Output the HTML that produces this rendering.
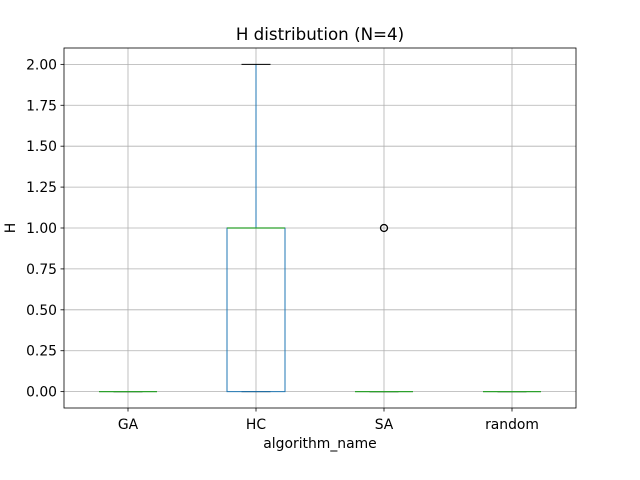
<!DOCTYPE html>
<html><head><meta charset="utf-8"><style>
body{margin:0;background:#fff;}
svg{display:block;font-family:"DejaVu Sans","Liberation Sans",sans-serif;}
</style></head><body>
<svg id="chart" width="640" height="480"></svg>
<script>
const categories=["GA","HC","SA","random"];
const q1=[0,0,0,0];
const medians=[0,1,0,0];
const q3=[0,1,0,0];
const whiskerLow=[0,0,0,0];
const whiskerHigh=[0,2,0,0];
const outliers=[[],[],[1],[]];
const yTicks=[0,0.25,0.5,0.75,1,1.25,1.5,1.75,2];
const yTickLabels=["0.00","0.25","0.50","0.75","1.00","1.25","1.50","1.75","2.00"];

const L=64,R=576,T=48,B=408,ymin=-0.1,ymax=2.1;
const NS="http://www.w3.org/2000/svg";
const svg=document.getElementById('chart');
const y=v=>B-(v-ymin)/(ymax-ymin)*(B-T);
const x=i=>L+(i+0.5)*(R-L)/categories.length;
const bw=58;
function mk(tag,attrs,parent){const e=document.createElementNS(NS,tag);for(const k in attrs)e.setAttribute(k,attrs[k]);(parent||svg).appendChild(e);return e;}

const grid=mk('g',{});


yTicks.forEach((v,i)=>{
  mk('line',{x1:L,x2:R,y1:y(v),y2:y(v),stroke:'#b0b0b0','stroke-width':0.8},grid);
  mk('line',{x1:L-3.5,x2:L,y1:y(v),y2:y(v),stroke:'#000','stroke-width':0.8});
  const t=mk('text',{x:L-7,y:y(v)+5,'text-anchor':'end','font-size':13.9});
  t.textContent=yTickLabels[i];
  
  
});
categories.forEach((c,i)=>{
  mk('line',{x1:x(i),x2:x(i),y1:T,y2:B,stroke:'#b0b0b0','stroke-width':0.8},grid);
  mk('line',{x1:x(i),x2:x(i),y1:B,y2:B+3.5,stroke:'#000','stroke-width':0.8});
  const t=mk('text',{x:x(i),y:B+21,'text-anchor':'middle','font-size':13.9});
  t.textContent=c;
  
  
});
categories.forEach((c,i)=>{
  const g=mk('g',{});
  
  
  const cx=x(i),col='#1f77b4';
  mk('line',{x1:cx,x2:cx,y1:y(q3[i]),y2:y(whiskerHigh[i]),stroke:col},g);
  mk('line',{x1:cx,x2:cx,y1:y(q1[i]),y2:y(whiskerLow[i]),stroke:col},g);
  mk('line',{x1:cx-bw/4,x2:cx+bw/4,y1:y(whiskerHigh[i]),y2:y(whiskerHigh[i]),stroke:'#000'},g);
  mk('line',{x1:cx-bw/4,x2:cx+bw/4,y1:y(whiskerLow[i]),y2:y(whiskerLow[i]),stroke:'#000'},g);
  mk('rect',{x:cx-bw/2,y:y(q3[i]),width:bw,height:Math.max(0,y(q1[i])-y(q3[i])),fill:'none',stroke:col},g);
  mk('line',{x1:cx-bw/2,x2:cx+bw/2,y1:y(medians[i]),y2:y(medians[i]),stroke:'#2ca02c','stroke-width':1.3},g);
  outliers[i].forEach(v=>{
    const o=mk('circle',{cx:cx,cy:y(v),r:3.5,fill:'none',stroke:'#000','stroke-width':1.3},g);
    
    
  });
});
const frame=mk('rect',{x:L,y:T,width:R-L,height:B-T,fill:'none',stroke:'#000','stroke-width':0.8});


const title=mk('text',{x:(L+R)/2,y:T-8,'text-anchor':'middle','font-size':16.7});
title.textContent='H distribution (N=4)';


const xl=mk('text',{x:(L+R)/2,y:448,'text-anchor':'middle','font-size':13.9});
xl.textContent='algorithm_name';


const yl=mk('text',{x:15,y:(T+B)/2,'text-anchor':'middle','font-size':13.9,transform:'rotate(-90 15 '+((T+B)/2)+')'});
yl.textContent='H';


</script>
</body></html>
